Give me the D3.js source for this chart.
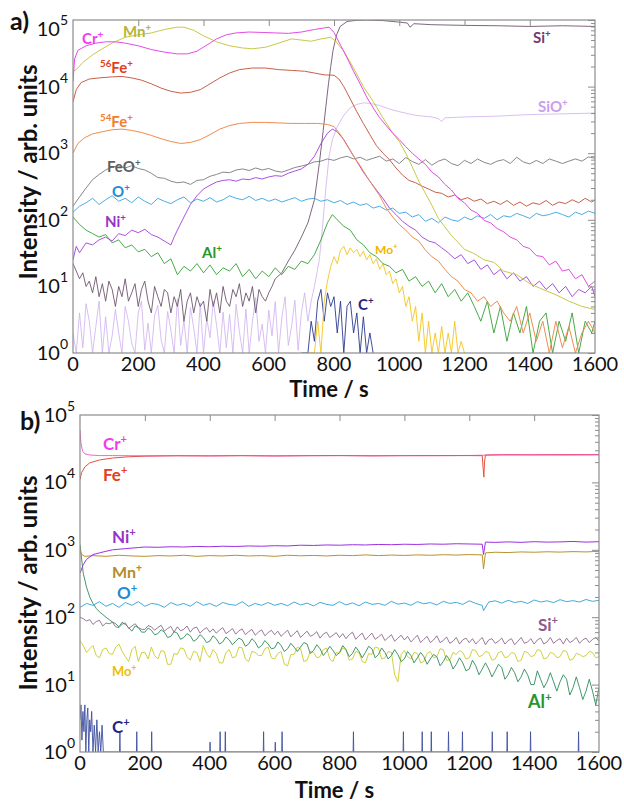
<!DOCTYPE html>
<html><head><meta charset="utf-8">
<script src="https://cdn.jsdelivr.net/npm/d3@7"></script>
<style>body{margin:0;background:#fff}svg{display:block}</style>
</head><body><div id="c"></div>
<script>
// ---------- tick labels ----------
const xTicks = [0,200,400,600,800,1000,1200,1400,1600];
const yDecades = [0,1,2,3,4,5];

// ---------- panel a data: [time s, intensity] ----------
const aCr = [[0,12000],[5,26000],[15,35000],[40,41000],[70,45000],[100,47000],[130,47000],[160,45000],[200,41000],[240,36000],[280,33000],[320,31000],[350,31000],[380,34000],[410,42000],[440,52000],[470,60000],[500,64000],[540,66000],[580,65000],[620,64000],[660,63000],[700,66000],[740,72000],[770,76000],[785,78000],[800,65000],[820,42000],[840,27000],[860,17000],[880,11000],[900,7000],[920,4800],[940,3400],[960,2600],[980,2000],[1000,1600],[1020,1250],[1040,1000],[1060,820],[1080,680],[1100,520],[1120,440],[1140,340],[1160,280],[1180,210],[1200,180],[1220,140],[1240,125],[1260,98],[1280,90],[1300,74],[1320,66],[1340,55],[1360,50],[1380,40],[1400,37],[1420,29],[1440,28],[1460,21],[1480,24],[1500,17],[1520,18],[1540,13],[1560,15],[1580,10],[1600,12]];
const aMn = [[0,17000],[10,18000],[30,23000],[60,30000],[90,37000],[120,45000],[160,55000],[200,60000],[240,64000],[280,72000],[320,78000],[340,78000],[370,70000],[400,58000],[440,47000],[480,41000],[520,38000],[550,37000],[590,39000],[630,45000],[670,52000],[700,50000],[730,48000],[760,52000],[790,55000],[805,48000],[830,34000],[860,19000],[890,10000],[920,6000],[950,3400],[980,2000],[1000,1500],[1020,1000],[1040,620],[1060,380],[1080,250],[1100,165],[1120,105],[1140,78],[1160,58],[1180,46],[1200,36],[1230,31],[1260,25],[1290,23],[1320,17],[1360,15],[1400,11],[1440,9],[1480,7.5],[1520,6],[1560,5],[1600,4.5]];
const aFe56 = [[0,5900],[10,9000],[25,11500],[50,13000],[80,13500],[120,14000],[150,14200],[180,13500],[210,12500],[240,11000],[270,9500],[300,8500],[330,8000],[360,8200],[390,9000],[420,11000],[450,13500],[480,16000],[510,18000],[550,19000],[590,19000],[630,18000],[670,17500],[710,17000],[740,16000],[770,15000],[800,14800],[815,13000],[830,10000],[850,6500],[870,4200],[890,2800],[910,1900],[930,1300],[950,1000],[970,800],[990,600],[1010,470],[1030,390],[1050,360],[1070,320],[1090,290],[1110,260],[1130,250],[1150,220],[1170,235],[1190,200],[1210,215],[1230,190],[1250,205],[1270,175],[1290,190],[1310,170],[1330,195],[1350,165],[1370,185],[1390,160],[1410,180],[1430,170],[1450,195],[1470,165],[1490,185],[1510,175],[1530,200],[1550,180],[1570,210],[1590,185],[1600,200]];
const aFe54 = [[0,1000],[15,1400],[35,1700],[60,1950],[90,2100],[120,2250],[150,2300],[180,2200],[210,2050],[240,1850],[270,1650],[300,1500],[330,1400],[360,1450],[390,1600],[420,1900],[450,2300],[480,2600],[510,2800],[550,2900],[590,2900],[630,2850],[670,2800],[710,2800],[750,2800],[780,2700],[800,2500],[820,1900],[840,1300],[860,900],[880,650],[900,450],[920,320],[940,230],[960,150],[980,110],[1000,85],[1020,70],[1040,55],[1060,48],[1080,35],[1100,28],[1120,24],[1140,18],[1160,14],[1180,12],[1200,9],[1220,8],[1240,6],[1260,7],[1280,5],[1300,6],[1320,4],[1340,3],[1360,5],[1380,2],[1400,4],[1420,1.5],[1440,3],[1460,1],[1480,3],[1500,1.2],[1520,2.5],[1540,1],[1560,2],[1580,3],[1600,2]];
const aFeO = [[0,160],[20,220],[40,300],[60,400],[80,480],[100,560],[120,620],[140,640],[160,600],[180,650],[200,590],[220,560],[240,500],[260,430],[280,420],[300,380],[320,360],[340,370],[360,340],[380,390],[400,400],[420,450],[440,480],[460,520],[480,510],[500,560],[520,580],[540,550],[560,600],[580,560],[600,590],[620,540],[640,520],[660,560],[680,610],[700,640],[720,680],[740,740],[760,760],[780,820],[800,780],[820,850],[840,900],[860,820],[880,870],[900,780],[920,840],[940,900],[960,760],[980,820],[1000,700],[1020,860],[1040,750],[1060,680],[1080,800],[1100,660],[1120,760],[1140,820],[1160,700],[1180,650],[1200,780],[1220,700],[1240,820],[1260,730],[1280,680],[1300,760],[1320,800],[1340,700],[1360,870],[1380,740],[1400,690],[1420,780],[1440,700],[1460,820],[1480,760],[1500,700],[1520,760],[1540,820],[1560,760],[1580,880],[1600,840]];
const aO = [[0,130],[20,160],[40,180],[60,210],[80,170],[100,200],[120,230],[140,190],[160,210],[180,180],[200,220],[220,190],[240,170],[260,210],[280,190],[300,175],[320,200],[340,220],[360,180],[380,205],[400,190],[420,215],[440,185],[460,200],[480,230],[500,210],[520,200],[540,225],[560,195],[580,210],[600,190],[620,205],[640,185],[660,200],[680,215],[700,190],[720,205],[740,210],[760,190],[780,200],[800,180],[820,195],[840,170],[860,185],[880,165],[900,175],[920,150],[940,160],[960,140],[980,150],[1000,125],[1020,130],[1040,110],[1060,120],[1080,95],[1100,105],[1120,90],[1140,110],[1160,100],[1180,95],[1200,110],[1220,100],[1240,115],[1260,105],[1280,120],[1300,100],[1320,115],[1340,110],[1360,125],[1380,115],[1400,105],[1420,125],[1440,115],[1460,120],[1480,130],[1500,120],[1520,110],[1540,130],[1560,120],[1580,135],[1600,125]];
const aNi = [[0,25],[10,40],[20,32],[40,45],[60,42],[80,50],[100,55],[120,48],[140,62],[160,58],[180,70],[200,64],[220,72],[240,60],[260,55],[280,48],[300,42],[310,55],[320,70],[340,110],[360,170],[380,230],[400,290],[420,330],[440,370],[460,390],[480,400],[500,380],[520,410],[540,400],[560,430],[580,410],[600,440],[620,460],[640,450],[660,500],[680,540],[700,580],[720,680],[740,900],[760,1400],[780,2000],[795,2300],[810,2100],[830,1600],[850,1100],[870,750],[890,520],[910,380],[930,280],[950,210],[970,150],[990,120],[1010,95],[1030,80],[1050,70],[1070,55],[1090,48],[1110,45],[1130,38],[1150,32],[1170,26],[1190,30],[1210,22],[1230,25],[1250,18],[1270,21],[1290,15],[1310,18],[1330,13],[1350,16],[1370,12],[1390,14],[1410,10],[1430,12],[1450,9],[1470,11],[1490,8],[1510,10],[1530,7],[1550,9],[1570,8],[1590,10],[1600,7]];
const aAl = [[0,110],[20,85],[40,70],[60,62],[80,55],[100,60],[120,45],[140,50],[160,38],[180,42],[200,33],[220,36],[240,28],[260,32],[280,22],[300,26],[320,15],[340,20],[360,17],[380,22],[400,16],[420,21],[440,15],[460,19],[480,17],[500,22],[520,14],[540,18],[560,13],[580,17],[600,14],[620,19],[640,15],[660,20],[680,18],[700,24],[720,22],[740,30],[760,50],[780,90],[795,120],[810,100],[830,80],[850,70],[870,50],[890,42],[910,32],[930,28],[950,22],[970,20],[990,16],[1010,18],[1030,12],[1050,14],[1070,10],[1090,12],[1110,8],[1130,11],[1150,7],[1170,9],[1190,6],[1210,8],[1230,5],[1250,3],[1270,6],[1290,2],[1310,5],[1330,1.5],[1350,4],[1370,2],[1390,5],[1410,1],[1430,3],[1450,4],[1470,1],[1490,3],[1510,1.5],[1530,4],[1550,1],[1570,3],[1590,2],[1600,3]];
// Si+ : noisy part sampled every 10 s from t = 0, then the rise and plateau
const aSiLowV = [22,17,13,16,10,12,8,14,7,11, 6,12,9,5,10,7,13,6,8,11, 5,9,12,6,4,10,7,5,9,8, 4,7,5,9,3,6,8,4,7,5, 6,3,9,5,8,4,10,6,5,9, 7,11,5,8,6,10,4,9,7,6, 8,10,13];
const aSiHigh = [[640,16],[660,24],[680,35],[700,55],[720,90],[740,200],[755,700],[767,2200],[775,5000],[783,11000],[790,20000],[797,35000],[808,60000],[819,80000],[840,95000],[870,99000],[900,100000],[950,98000],[1000,93000],[1025,90000],[1033,78000],[1045,88000],[1100,85000],[1200,83000],[1300,82000],[1400,80000],[1500,82000],[1600,80000]];
// SiO+ : noisy part every 10 s from t = 0, then rise and plateau
const aSiOLowV = [2,0.6,4,1.2,5.5,3,0.8,2.5,6,1, 3.5,0.7,1.8,4.5,2,0.9,5,3,1.4,0.6, 4,6,1.1,2.8,0.7,3.6,5.2,1.6,0.9,4.2, 2.2,0.8,6.5,1.3,3.1,0.6,4.8,2.4,1,5.6, 0.9,3.3,1.7,6,2.6,0.7,4.1,1.2,3.8,0.8, 5.4,2.1,1,4.6,0.6,3,6.8,1.5,2.7,0.9, 4.4,1.8,5.9,0.8,3.4,7,1.3,2.5,6.2,1.1, 4,8,3,6,10];
const aSiOHigh = [[755,25],[765,80],[775,300],[785,900],[795,1600],[810,2500],[830,3700],[850,4800],[870,5400],[890,5700],[910,5600],[940,5200],[970,4600],[1000,4200],[1050,3700],[1100,3500],[1120,3300],[1130,3000],[1140,3400],[1200,3500],[1300,3600],[1400,3800],[1500,3900],[1600,4000]];
const aMo = [[720,0.5],[740,1],[750,3],[760,1],[770,6],[780,12],[790,20],[800,28],[810,22],[820,35],[830,40],[840,30],[850,38],[860,32],[870,36],[880,28],[890,34],[900,25],[910,30],[920,22],[930,26],[940,18],[950,22],[960,15],[970,17],[980,11],[990,13],[1000,8],[1010,10],[1020,5],[1030,7],[1040,3],[1050,5],[1060,1.5],[1070,4],[1080,1],[1090,3],[1100,0.5],[1110,2],[1120,1],[1130,2.5],[1140,0.5],[1150,2],[1160,1],[1170,3],[1180,0.5],[1190,1.5],[1200,0.5]];
const aC = [[700,0.5],[720,1],[730,3],[740,1.5],[750,6],[760,9],[770,3],[780,8],[790,5],[800,7],[810,2],[820,6],[830,1],[840,5],[850,6],[860,2],[870,4],[880,1],[890,3.5],[900,0.8],[910,2],[920,0.5]];

// ---------- panel b data ----------
const bCr = [[0,60000],[3,38000],[8,29000],[15,26500],[30,25500],[60,25000],[100,25000],[200,24800],[300,25000],[400,24800],[500,25000],[600,24700],[700,24900],[800,25000],[900,24800],[1000,25000],[1100,24900],[1200,25100],[1300,25600],[1400,25700],[1500,25500],[1600,25800]];
const bFe = [[0,11000],[5,14000],[15,17000],[30,19500],[60,21500],[100,23000],[150,24000],[200,24500],[300,24800],[400,24700],[500,24900],[600,24700],[700,24900],[800,25000],[900,24800],[1000,24900],[1100,25000],[1200,25000],[1240,24900],[1243,16000],[1245,12000],[1247,20000],[1250,25500],[1300,25700],[1400,25600],[1500,25800],[1600,25700]];
const bNi = [[0,450],[10,600],[20,720],[40,850],[60,900],[80,950],[100,1000],[140,1040],[180,1080],[200,1100],[240,1090],[280,1110],[320,1100],[360,1120],[400,1110],[440,1130],[480,1120],[520,1140],[560,1130],[600,1150],[640,1140],[680,1170],[720,1160],[760,1180],[800,1170],[840,1190],[880,1180],[920,1200],[960,1190],[1000,1210],[1040,1200],[1080,1220],[1120,1210],[1160,1230],[1200,1220],[1240,1210],[1244,850],[1250,1300],[1280,1290],[1320,1310],[1360,1290],[1400,1320],[1440,1300],[1480,1310],[1520,1330],[1560,1300],[1600,1320]];
const bMn = [[0,1000],[5,850],[15,800],[40,820],[80,800],[120,830],[160,810],[200,800],[240,820],[280,810],[320,830],[360,800],[400,820],[440,810],[480,830],[520,810],[560,820],[600,800],[640,830],[680,815],[720,825],[760,810],[800,830],[840,820],[880,840],[920,820],[960,835],[1000,825],[1040,840],[1080,830],[1120,845],[1160,835],[1200,850],[1240,840],[1244,520],[1250,900],[1280,920],[1320,910],[1360,930],[1400,920],[1440,935],[1480,925],[1520,940],[1560,930],[1600,950]];
const bO = [[0,140],[20,160],[40,150],[60,170],[80,145],[100,160],[120,140],[140,165],[160,150],[180,170],[200,145],[220,160],[240,155],[260,140],[280,165],[300,150],[320,160],[340,145],[360,170],[380,150],[400,160],[420,145],[440,165],[460,155],[480,150],[500,170],[520,145],[540,160],[560,150],[580,165],[600,150],[620,160],[640,148],[660,168],[680,152],[700,162],[720,147],[740,166],[760,155],[780,150],[800,170],[820,152],[840,163],[860,148],[880,168],[900,155],[920,160],[940,150],[960,172],[980,156],[1000,162],[1020,150],[1040,170],[1060,158],[1080,165],[1100,152],[1120,172],[1140,160],[1160,166],[1180,155],[1200,175],[1220,160],[1240,150],[1244,125],[1260,168],[1280,175],[1300,162],[1320,178],[1340,165],[1360,172],[1380,160],[1400,180],[1420,168],[1440,175],[1460,165],[1480,182],[1500,170],[1520,176],[1540,168],[1560,183],[1580,172],[1600,178]];
// noisy series sampled every 10 s from t = 0 to 1600
const bAlV = [1200,450,280,200,160,135,120,110,100,92, 85,80,72,84,78,70,62,74,70,60, 60,69,64,55,57,65,60,50,52,61, 58,47,50,57,53,44,47,55,50,42, 44,53,48,40,43,51,46,39,44,49, 46,37,40,48,43,35,38,45,40,34, 35,43,38,31,34,41,36,31,36,42, 40,29,32,39,34,27,31,37,32,27, 30,38,33,26,29,36,31,25,30,37, 34,25,28,35,30,24,27,33,28,22, 24,31,27,21,25,30,26,20,24,28, 26,19,22,27,23,17,20,25,21,16, 17,23,19,14,17,21,17,13,16,20, 18,12,14,18,15,11,13,17,14,10, 10,16,12,9,11,15,11,8,11,14, 12,7,9,13,9,6,8,12,8,5, 9];
const bSiV = [100,95,88,92,78,86,90,74,82,80, 84,72,70,79,82,68,74,80,70,66, 66,75,72,64,70,76,62,68,73,60, 72,63,66,74,60,69,71,58,65,70, 60,67,58,64,70,57,62,68,56,63, 67,55,61,66,54,60,65,53,59,64, 55,62,52,58,64,51,57,63,50,56, 62,52,55,61,49,56,60,50,54,59, 50,57,48,55,60,47,53,58,46,52, 58,47,51,56,45,50,55,44,49,54, 46,52,43,48,54,42,47,52,42,46, 53,42,45,51,41,44,50,40,46,49, 42,48,40,45,50,39,46,48,41,44, 49,40,45,48,39,44,50,41,43,48, 40,46,49,40,43,50,41,45,48,40, 49,42,45,50,41,46,49,42,47,50, 44];
const bMoV = [45,38,30,34,38,27,25,33,35,29, 28,36,40,31,26,22,33,37,22,30, 30,24,36,27,24,32,31,20,20,29, 28,35,34,26,23,31,30,22,38,29, 25,33,29,21,21,30,33,25,26,36, 35,24,22,31,30,27,27,34,36,25, 24,29,31,20,19,28,28,36,34,22, 23,31,30,25,26,33,35,24,22,30, 29,35,33,23,24,31,30,22,21,29, 28,36,35,24,25,31,30,14,11,28, 32,26,24,30,29,21,22,29,31,25, 26,34,33,23,23,30,28,32,30,24, 25,33,32,26,27,31,30,23,24,30, 31,25,26,30,29,22,23,31,30,26, 27,33,32,24,25,30,29,25,26,32, 31,23,24,29,28,26,27,31,30,25, 26];
const bCstart = [[0,3],[3,5],[6,1.5],[9,4],[12,2],[15,5],[18,1],[21,3],[24,4.5],[27,1],[30,3],[33,2],[36,4],[40,1],[44,2.5],[48,1],[52,3],[56,1],[60,2],[64,1],[68,2.5],[72,1],[80,1]];
const bCspikeT = [123,175,221,401,432,448,566,602,623,843,997,1055,1083,1136,1179,1271,1317,1389,1537];
const bCspikeV = [2,2,2,1.4,2,2,2,1.4,2,2,2,2,2,2,2,2,2,2,2];

// ---------- helpers ----------
const grid = (t0, dt, vals) => vals.map((v, i) => [t0 + i * dt, v]);

// ---------- rendering ----------
const W = 624, H = 803;
const FONT = "Lato, 'Open Sans', sans-serif";
const svg = d3.select("#c").append("svg").attr("width", W).attr("height", H);

function panel(cfg) {
  const x = d3.scaleLinear().domain([0,1600]).range([cfg.left, cfg.right]);
  const y = d3.scaleLog().domain([1,1e5]).range([cfg.bottom, cfg.top]).clamp(true);
  const g = svg.append("g");
  const clipId = "clip" + cfg.id;
  g.append("clipPath").attr("id", clipId).append("rect")
    .attr("x", cfg.left).attr("y", cfg.top).attr("width", cfg.right - cfg.left).attr("height", cfg.bottom - cfg.top);
  const plot = g.append("g").attr("clip-path", `url(#${clipId})`);
  const line = d3.line().x(d => x(d[0])).y(d => y(d[1]));
  cfg.series.forEach(s => {
    plot.append("path").attr("d", line(s.data)).attr("fill", "none")
      .attr("stroke", s.color).attr("stroke-width", s.w || 1).attr("stroke-opacity", s.op || 1)
      .attr("stroke-linejoin", "round");
  });
  // frame
  g.append("rect").attr("x", cfg.left).attr("y", cfg.top).attr("width", cfg.right - cfg.left)
    .attr("height", cfg.bottom - cfg.top).attr("fill", "none").attr("stroke", "#8c8c8c").attr("stroke-width", 1.2);
  // top ticks (inward)
  g.append("g").attr("transform", `translate(0,${cfg.top})`)
    .call(d3.axisBottom(x).tickValues(xTicks.slice(1, -1)).tickSize(6).tickFormat(""))
    .call(a => a.select(".domain").remove())
    .call(a => a.selectAll("line").attr("stroke", "#8c8c8c"));
  // right minor ticks (inward)
  const minor = [];
  for (let d = 0; d < 5; d++) for (let m = 2; m <= 9; m++) minor.push(m * Math.pow(10, d));
  g.append("g").attr("transform", `translate(${cfg.right},0)`)
    .call(d3.axisLeft(y).tickValues(minor).tickSize(4).tickFormat(""))
    .call(a => a.select(".domain").remove())
    .call(a => a.selectAll("line").attr("stroke", "#8c8c8c"));
  g.append("g").attr("transform", `translate(${cfg.right},0)`)
    .call(d3.axisLeft(y).tickValues(yDecades.map(e => Math.pow(10, e))).tickSize(7).tickFormat(""))
    .call(a => a.select(".domain").remove())
    .call(a => a.selectAll("line").attr("stroke", "#8c8c8c"));
  // x tick labels
  g.append("g").selectAll("text").data(xTicks).join("text")
    .attr("x", d => x(d)).attr("y", cfg.bottom + 18).attr("text-anchor", "middle")
    .attr("font-family", FONT).attr("font-size", 20).attr("fill", "#111").text(d => d);
  // y tick labels 10^n
  yDecades.forEach(e => {
    let yy = y(Math.pow(10, e)) + 7;
    if (e === 5) yy += cfg.topShift;
    const t = g.append("text").attr("x", cfg.left - 5).attr("y", yy).attr("text-anchor", "end")
      .attr("font-family", FONT).attr("fill", "#111");
    t.append("tspan").attr("font-size", 20).text("10");
    t.append("tspan").attr("font-size", 14).attr("dy", -11).text(e);
  });
  // axis titles
  g.append("text").attr("x", (cfg.left + cfg.right) / 2 - 5).attr("y", cfg.bottom + cfg.titleDy)
    .attr("text-anchor", "middle").attr("font-family", FONT).attr("font-weight", "bold")
    .attr("font-size", 22).attr("fill", "#111").text("Time / s");
  g.append("text").attr("transform", `translate(${cfg.yTitleX},${cfg.yTitleY}) rotate(-90)`)
    .attr("text-anchor", "middle").attr("font-family", FONT).attr("font-weight", "bold")
    .attr("font-size", 24).attr("fill", "#111").text("Intensity / arb. units");
  g.append("text").attr("x", cfg.tagX).attr("y", cfg.tagY).attr("font-family", FONT)
    .attr("font-weight", "bold").attr("font-size", 25).attr("fill", "#111").text(cfg.tag);
  // series labels
  cfg.labels.forEach(L => {
    const size = L.s || 15;
    const t = g.append("text").attr("x", L.x).attr("y", L.y).attr("font-family", FONT)
      .attr("font-weight", "bold").attr("fill", L.c).attr("font-size", size);
    let sup = false;
    L.t.forEach(([str, isSup]) => {
      const sp = t.append("tspan").text(str);
      if (isSup && !sup) { sp.attr("dy", -size * 0.4).attr("font-size", size * 0.65); sup = true; }
      else if (!isSup && sup) { sp.attr("dy", size * 0.4); sup = false; }
    });
  });
}

const aSi = grid(0, 10, aSiLowV).concat(aSiHigh);
const aSiO = grid(0, 10, aSiOLowV).concat(aSiOHigh);

panel({
  id: "a", left: 73, right: 595, top: 20, bottom: 353, topShift: 9, titleDy: 44,
  yTitleX: 37, yTitleY: 172, tag: "a)", tagX: 10, tagY: 30,
  series: [
    {data: aSiO, color: "#cfb0ef", op: 0.9, w: 0.9},
    {data: aSi, color: "#6e566e", w: 0.9},
    {data: aC, color: "#2a3a8e", w: 0.9},
    {data: aMo, color: "#f3c51c", w: 0.9},
    {data: aAl, color: "#33a033", w: 0.9},
    {data: aNi, color: "#a23ddc", w: 0.9},
    {data: aO, color: "#3aa2dc", w: 0.9},
    {data: aFeO, color: "#7a7a7a", w: 0.9},
    {data: aFe54, color: "#f08c4e"},
    {data: aFe56, color: "#c8604a"},
    {data: aMn, color: "#c8c84a"},
    {data: aCr, color: "#e64be6"}
  ],
  labels: [
    {t: [["Cr",0],["+",1]], x: 82, y: 44, c: "#f03cf0"},
    {t: [["Mn",0],["+",1]], x: 123, y: 37, c: "#b4b43c"},
    {t: [["56",1],["Fe",0],["+",1]], x: 100, y: 73, c: "#e04020"},
    {t: [["54",1],["Fe",0],["+",1]], x: 100, y: 127, c: "#f08030"},
    {t: [["FeO",0],["+",1]], x: 107, y: 172, c: "#606060"},
    {t: [["O",0],["+",1]], x: 112, y: 197, c: "#1e8cd2"},
    {t: [["Ni",0],["+",1]], x: 105, y: 227, c: "#9632c8"},
    {t: [["Al",0],["+",1]], x: 202, y: 258, c: "#28962a"},
    {t: [["Si",0],["+",1]], x: 533, y: 43, c: "#6e3c6e"},
    {t: [["SiO",0],["+",1]], x: 538, y: 112, c: "#c8a0ec"},
    {t: [["Mo",0],["+",1]], x: 375, y: 254, c: "#f0b400", s: 12},
    {t: [["C",0],["+",1]], x: 358, y: 310, c: "#1e2882"}
  ]
});

const bCseries = bCstart.slice();
bCspikeT.forEach((t, i) => { bCseries.push([t - 1, 1], [t, bCspikeV[i]], [t + 1, 1]); });
bCseries.push([1600, 1]);

panel({
  id: "b", left: 80, right: 599, top: 415, bottom: 752, topShift: 0, titleDy: 46,
  yTitleX: 37, yTitleY: 583, tag: "b)", tagX: 20, tagY: 430,
  series: [
    {data: bCseries, color: "#4050a0", w: 0.9},
    {data: grid(0, 10, bMoV), color: "#cbcb2a", w: 0.9},
    {data: grid(0, 10, bAlV), color: "#2e8b5a", w: 0.9},
    {data: grid(0, 10, bSiV), color: "#8c6a8c", w: 0.9},
    {data: bO, color: "#2ea0d8", w: 0.9},
    {data: bMn, color: "#b8922e"},
    {data: bNi, color: "#9b30e0"},
    {data: bFe, color: "#e8503c"},
    {data: bCr, color: "#f040c0", op: 0.8}
  ],
  labels: [
    {t: [["Cr",0],["+",1]], x: 103, y: 450, c: "#f03cf0", s: 17},
    {t: [["Fe",0],["+",1]], x: 103, y: 481, c: "#e04020", s: 17},
    {t: [["Ni",0],["+",1]], x: 112, y: 543, c: "#9632c8", s: 17},
    {t: [["Mn",0],["+",1]], x: 112, y: 578, c: "#b48c28", s: 16},
    {t: [["O",0],["+",1]], x: 117, y: 599, c: "#1e8cd2", s: 17},
    {t: [["Si",0],["+",1]], x: 538, y: 631, c: "#8c5a8c", s: 17},
    {t: [["Mo",0],["+",1]], x: 112, y: 676, c: "#f0c000", s: 13},
    {t: [["Al",0],["+",1]], x: 528, y: 708, c: "#28962a", s: 18},
    {t: [["C",0],["+",1]], x: 112, y: 733, c: "#1e2882", s: 17}
  ]
});
</script>
</body></html>
